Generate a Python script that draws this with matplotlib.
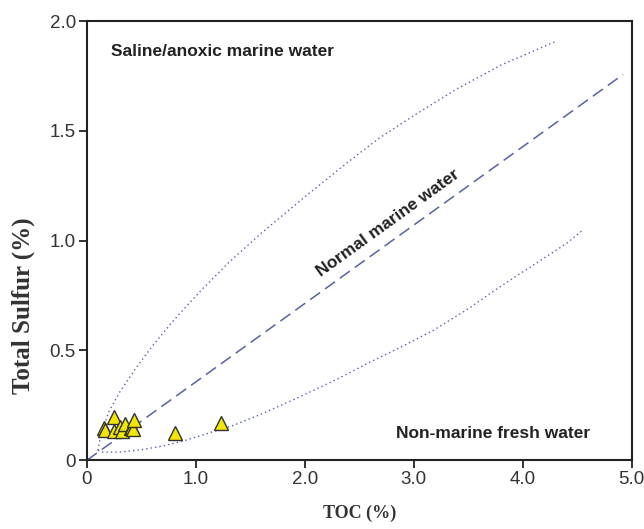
import matplotlib
matplotlib.use('Agg')
import matplotlib.pyplot as plt

# samples (TOC %, total S %)
toc = [0.16, 0.17, 0.25, 0.25, 0.30, 0.325, 0.35, 0.40, 0.41, 0.42, 0.434, 0.81, 1.23]
sulfur = [0.145, 0.137, 0.197, 0.133, 0.15, 0.133, 0.164, 0.145, 0.152, 0.14, 0.182, 0.124, 0.17]

# boundary curves
upper_x = [0.10, 0.13, 0.2, 0.3, 0.45, 0.6, 0.8, 1.04, 1.3, 1.59, 2.0, 2.4, 2.69, 3.0, 3.39, 3.8, 4.29]
upper_y = [0.045, 0.12, 0.22, 0.31, 0.42, 0.52, 0.64, 0.77, 0.90, 1.03, 1.20, 1.36, 1.47, 1.57, 1.69, 1.80, 1.905]
lower_x = [0.10, 0.15, 0.3, 0.5, 0.7, 0.9, 1.04, 1.34, 1.6, 1.95, 2.3, 2.57, 2.9, 3.18, 3.5, 3.79, 4.1, 4.40, 4.55]
lower_y = [0.045, 0.037, 0.037, 0.048, 0.065, 0.09, 0.112, 0.158, 0.21, 0.288, 0.37, 0.44, 0.52, 0.592, 0.69, 0.79, 0.89, 0.987, 1.048]
normal_x = [0.0, 4.92]
normal_y = [0.0, 1.757]

xticks = [0, 1, 2, 3, 4, 5]
xlabels = ['0', '1.0', '2.0', '3.0', '4.0', '5.0']
yticks = [0, 0.5, 1.0, 1.5, 2.0]
ylabels = ['0', '0.5', '1.0', '1.5', '2.0']

line_col = '#5662a6'

fig = plt.figure(figsize=(6.44, 5.29), dpi=100)
ax = fig.add_axes([0.135, 0.130, 0.846, 0.830])

ax.plot(upper_x, upper_y, color=line_col, lw=1.0, ls=(0, (1, 2.2)))
ax.plot(lower_x, lower_y, color=line_col, lw=1.0, ls=(0, (1, 2.2)))
ax.plot(normal_x, normal_y, color=line_col, lw=1.1, ls=(0, (8, 4)))

ax.plot(toc, sulfur, ls='none', marker='^', ms=10, mfc='#f2e600', mec='#333333', mew=1.0)

ax.set_xlim(0, 5)
ax.set_ylim(0, 2)
ax.set_xticks(xticks)
ax.set_xticklabels(xlabels)
ax.set_yticks(yticks)
ax.set_yticklabels(ylabels)

sans = 'Liberation Sans'
serif = 'Liberation Serif'
for lab in ax.get_xticklabels() + ax.get_yticklabels():
    lab.set_family(sans)
    lab.set_fontsize(13.5)
    lab.set_color('#333333')

ax.tick_params(direction='out', length=6, width=1.3, color='#222222', pad=2)
for sp in ax.spines.values():
    sp.set_linewidth(1.5)
    sp.set_color('#222222')

ax.set_xlabel('TOC (%)', family=serif, fontweight='bold', fontsize=13, color='#333333', labelpad=12)
# y label sits low and long in the original, placed by hand
fig.text(23 / 644, 223 / 529, 'Total Sulfur (%)', family=serif, fontweight='bold', fontsize=18,
         color='#333333', rotation=90, ha='center', va='center')

ax.text(0.22, 1.86, 'Saline/anoxic marine water', family=sans, fontweight='bold', fontsize=12.5,
        color='#222222', va='center', ha='left')
ax.text(2.84, 0.12, 'Non-marine fresh water', family=sans, fontweight='bold', fontsize=12.5,
        color='#222222', va='center', ha='left')
ax.text(2.76, 1.08, 'Normal marine water', family=sans, fontweight='bold', fontsize=12.5,
        color='#222222', va='center', ha='center', rotation=35.8, rotation_mode='anchor')

fig.savefig('out.png', dpi=100)
